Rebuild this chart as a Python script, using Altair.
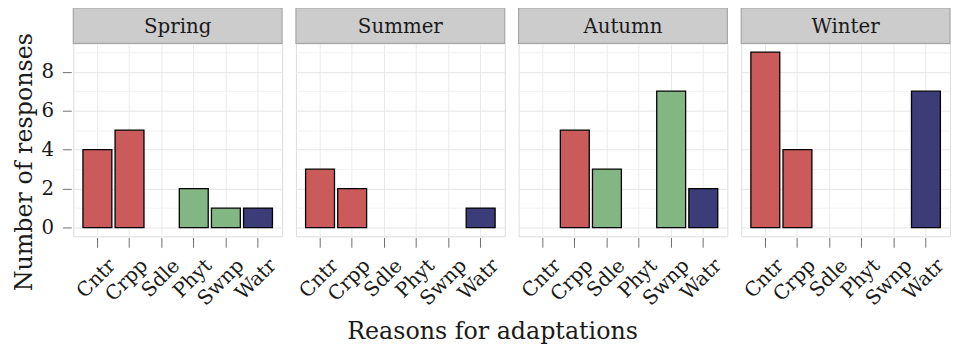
import altair as alt
import pandas as pd

seasons = ["Spring", "Summer", "Autumn", "Winter"]
reasons = ["Cntr", "Crpp", "Sdle", "Phyt", "Swnp", "Watr"]
spring = [4, 5, 0, 2, 1, 1]
summer = [3, 2, 0, 0, 0, 1]
autumn = [0, 5, 3, 0, 7, 2]
winter = [9, 4, 0, 0, 0, 7]
bar_colors = ["#CB5A5B", "#CB5A5B", "#82B682", "#82B682", "#82B682", "#3B3C78"]

rows = []
for s, vals in zip(seasons, [spring, summer, autumn, winter]):
    for r, v in zip(reasons, vals):
        rows.append({"season": s, "reason": r, "count": v})
df = pd.DataFrame(rows)

FONT = "DejaVu Serif"
W = 211
H = 195
STRIP = 36

x_enc = alt.X(
    "reason:N",
    sort=reasons,
    scale=alt.Scale(domain=reasons, paddingInner=0.1, paddingOuter=0.3),
    axis=alt.Axis(
        title=None,
        labelAngle=315,
        labelAlign="right",
        labelBaseline="top",
        labelFont=FONT,
        labelFontSize=20,
        labelColor="#1a1a1a",
        labelPadding=8,
        labelOffset=8,
        tickSize=10,
        tickColor="#6e6e6e",
        domain=False,
        grid=True,
        gridColor="#EBEBEB",
        bandPosition=0.5,
    ),
)
y_enc = alt.Y(
    "count:Q",
    scale=alt.Scale(domain=[-0.45, 9.45], nice=False, zero=False),
    axis=alt.Axis(
        title="Number of responses",
        titleFont=FONT,
        titleFontSize=24,
        titleFontWeight="normal",
        titleColor="#1a1a1a",
        titlePadding=5,
        titleY=H / 2 + 22,
        values=list(range(10)),
        labelExpr="datum.value % 2 == 0 ? datum.label : ''",
        labelFont=FONT,
        labelFontSize=20,
        labelColor="#1a1a1a",
        labelPadding=9,
        tickSize=9,
        tickColor="#6e6e6e",
        tickOpacity={"condition": {"test": "datum.value % 2 == 0", "value": 1}, "value": 0},
        domain=False,
        grid=True,
        gridColor={"condition": {"test": "datum.value % 2 == 0", "value": "#E6E6E6"}, "value": "#F3F3F3"},
    ),
)

bars = alt.Chart().transform_filter("datum.count > 0").mark_bar(
    stroke="black", strokeWidth=1.3
).encode(
    x=x_enc,
    y=y_enc,
    color=alt.Color("reason:N", scale=alt.Scale(domain=reasons, range=bar_colors), legend=None),
)

strip = alt.Chart().transform_filter("datum.reason == 'Cntr'").mark_rect(
    fill="#CCCCCC", stroke="#A6A6A6", strokeWidth=1.2
).encode(
    x=alt.value(0), x2=alt.value(W), y=alt.value(-STRIP), y2=alt.value(0)
)

strip_text = alt.Chart().transform_filter("datum.reason == 'Cntr'").mark_text(
    font=FONT, fontSize=20, color="#1a1a1a", baseline="middle", align="center"
).encode(
    x=alt.value(W / 2), y=alt.value(-STRIP / 2 + 1), text="season:N"
)

layered = alt.layer(bars, strip, strip_text).properties(width=W, height=H)

chart = layered.facet(
    data=df,
    column=alt.Column(
        "season:N",
        sort=seasons,
        header=alt.Header(labels=False, title=None, labelPadding=0, titlePadding=0),
    ),
    spacing=10,
).properties(
    title=alt.TitleParams(
        "Reasons for adaptations",
        orient="bottom",
        anchor="middle",
        font=FONT,
        fontSize=24,
        fontWeight="normal",
        color="#1a1a1a",
        offset=12,
        dx=11,
    ),
    padding={"left": 4, "top": -4, "right": 0, "bottom": 0},
).configure_view(
    stroke="#B0B0B0", strokeWidth=1.2
).configure(background="white")

chart.save("out.html", embed_options={"renderer": "svg", "actions": False})
